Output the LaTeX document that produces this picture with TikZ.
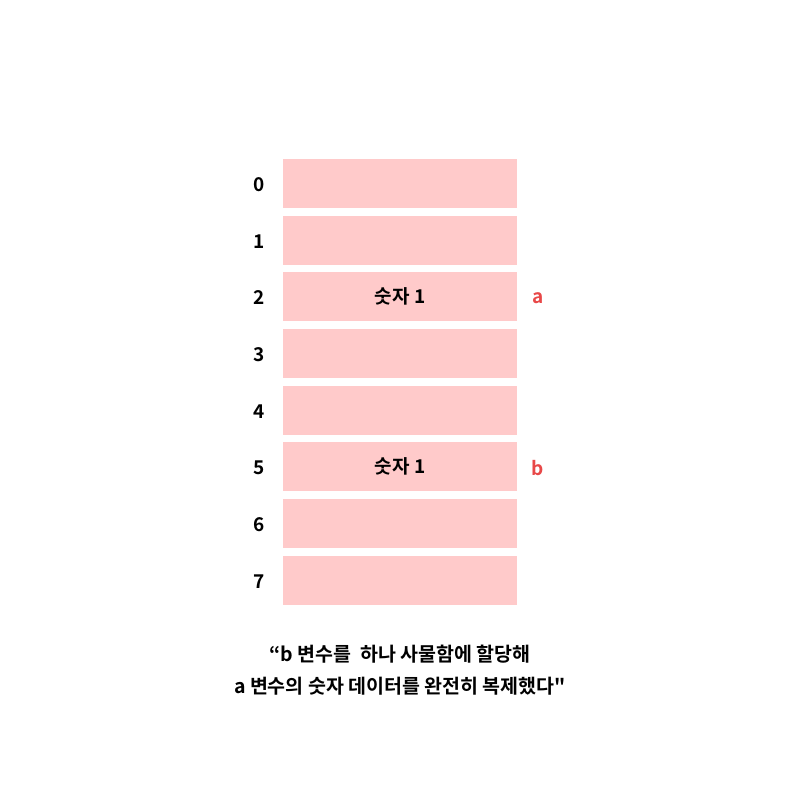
\documentclass[tikz,border=0pt]{standalone}
\usepackage{fontspec}
\setmainfont{Noto Sans CJK KR}[BoldFont={Noto Sans CJK KR Bold},Ligatures=TeXOff]
\definecolor{cellpink}{HTML}{FFCACA}
\definecolor{varred}{HTML}{E84848}
\begin{document}
\begin{tikzpicture}[x=1pt,y=-1pt,
  cell/.style={fill=cellpink,draw=none,minimum width=234pt,minimum height=49pt,inner sep=0pt,anchor=north west,font=\fontsize{19}{20}\selectfont\bfseries},
  idx/.style={font=\fontsize{19}{20}\selectfont\bfseries,text=black},
  var/.style={font=\fontsize{19}{20}\selectfont\bfseries,text=varred},
  captext/.style={font=\fontsize{19.5}{32}\selectfont\bfseries,align=center}]
\useasboundingbox (0,0) rectangle (800,800);
\foreach \i/\y/\t in {0/159/,1/216/,2/272/숫자 1,3/329/,4/386/,5/442/숫자 1,6/499/,7/556/}{
  \node[cell] (c\i) at (283,\y) {\t};
  \node[idx] (n\i) at (259,\y+26) {\i};
}
\node[var] (va) at (538,272+26) {a};
\node[var] (vb) at (538,442+26) {b};
\node[captext] (caption) at (400,670) {“b 변수를\ \ 하나 사물함에 할당해\\a 변수의 숫자 데이터를 완전히 복제했다"};
\end{tikzpicture}
\end{document}
